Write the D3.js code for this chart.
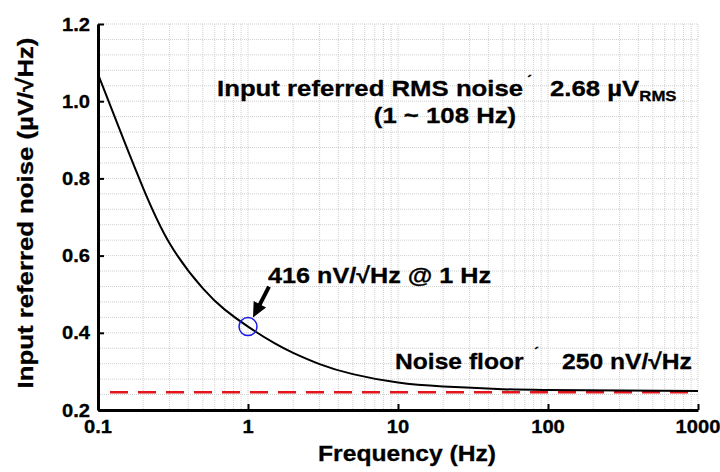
<!DOCTYPE html>
<html>
<head>
<meta charset="utf-8">
<script src="https://cdn.jsdelivr.net/npm/d3@7"></script>
<style>
  body { margin: 0; background: #fff; }
  svg { display: block; }
  text { font-family: 'Liberation Sans', Arial, sans-serif; font-weight: bold; fill: #000; stroke: #000; stroke-width: 0.3px; }
</style>
</head>
<body>
<svg id="chart"></svg>
<script>
var width = 720;
var height = 472;

// curve
var freq  = [0.1, 0.15, 0.2, 0.3, 0.5, 0.7, 1, 1.5, 2, 3, 5, 10, 20, 50, 100, 1000];
var noise = [1.07, 0.895, 0.775, 0.632, 0.515, 0.46, 0.416, 0.373, 0.348, 0.319, 0.293, 0.271, 0.261, 0.254, 0.252, 0.249];

var noiseFloor = 0.246;
var markFreq = 1;
var markNoise = 0.416;

var xTicks = [0.1, 1, 10, 100, 1000];
var xTickLabels = ['0.1', '1', '10', '100', '1000'];
var yTicks = [0.2, 0.4, 0.6, 0.8, 1.0, 1.2];
var yTickLabels = ['0.2', '0.4', '0.6', '0.8', '1.0', '1.2'];

var plotL = 98, plotR = 698, plotT = 24, plotB = 410;
var sx = 1.12; // text in the picture is a bit wide

var svg = d3.select('#chart')
  .attr('width', width)
  .attr('height', height);

var xScale = d3.scaleLog()
  .domain([0.1, 1000])
  .range([plotL, plotR]);

var yScale = d3.scaleLinear()
  .domain([0.2, 1.2])
  .range([plotB, plotT]);

// grid
var xGrid = [];
for (var d = 0.1; d < 999; d *= 10) {
  for (var k = 1; k < 10; k++) xGrid.push(d * k);
}
xGrid.push(1000);
var yGrid = d3.range(0, 26).map(i => 0.2 + i * 0.04);

svg.append('g')
  .selectAll('line')
  .data(xGrid)
  .enter()
  .append('line')
  .attr('x1', d => xScale(d))
  .attr('x2', d => xScale(d))
  .attr('y1', plotT)
  .attr('y2', plotB)
  .attr('stroke', '#cfcfcf')
  .attr('stroke-dasharray', '1,1');

svg.append('g')
  .selectAll('line')
  .data(yGrid)
  .enter()
  .append('line')
  .attr('x1', plotL)
  .attr('x2', plotR)
  .attr('y1', d => yScale(d))
  .attr('y2', d => yScale(d))
  .attr('stroke', '#cfcfcf')
  .attr('stroke-dasharray', '1,1');

// noise floor
svg.append('line')
  .attr('x1', plotL)
  .attr('x2', plotR)
  .attr('y1', yScale(noiseFloor))
  .attr('y2', yScale(noiseFloor))
  .attr('stroke', '#e3141b')
  .attr('stroke-width', 2.5)
  .attr('stroke-dasharray', '18,10')
  .attr('stroke-dashoffset', 16);

// curve
var line = d3.line()
  .x((d, i) => xScale(freq[i]))
  .y(d => yScale(d))
  .curve(d3.curveNatural);

svg.append('path')
  .attr('d', line(noise))
  .attr('fill', 'none')
  .attr('stroke', '#000')
  .attr('stroke-width', 2);

// axes
var xAxis = d3.axisBottom(xScale)
  .tickValues(xTicks)
  .tickSize(-6)
  .tickSizeOuter(0)
  .tickFormat('');

var yAxis = d3.axisLeft(yScale)
  .tickValues(yTicks)
  .tickSize(-6)
  .tickSizeOuter(0)
  .tickFormat('');

var gx = svg.append('g')
  .attr('transform', 'translate(0,' + plotB + ')')
  .call(xAxis);
var gy = svg.append('g')
  .attr('transform', 'translate(' + plotL + ',0)')
  .call(yAxis);

gx.select('.domain').attr('stroke-width', 3);
gy.select('.domain').attr('stroke-width', 3);
gx.selectAll('.tick line').attr('stroke-width', 2);
gy.selectAll('.tick line').attr('stroke-width', 2);

// labels, stretched a little like the picture
function label(x, y, str, size, anchor) {
  return svg.append('text')
    .attr('transform', 'translate(' + x + ',' + y + ') scale(' + sx + ',1)')
    .attr('text-anchor', anchor || 'start')
    .style('font-size', size + 'px')
    .text(str);
}

yTicks.forEach(function(v, i) {
  label(90, yScale(v) + 6.5, yTickLabels[i], 18, 'end');
});
xTicks.forEach(function(v, i) {
  label(xScale(v), plotB + 23, xTickLabels[i], 18, 'middle');
});

// axis titles
label(407, 461, 'Frequency (Hz)', 22, 'middle');
svg.append('text')
  .attr('transform', 'translate(33,213) rotate(-90) scale(' + sx + ',1)')
  .attr('text-anchor', 'middle')
  .style('font-size', '23px')
  .text('Input referred noise (\u00b5V/\u221aHz)');

// RMS annotation
label(217, 96, 'Input referred RMS noise', 23);
label(527, 86, '\u02ca', 14);
var rms = label(550, 96, '2.68 \u00b5V', 23);
rms.append('tspan')
  .attr('dy', 5)
  .style('font-size', '15px')
  .text('RMS');
label(445, 123, '(1 ~ 108 Hz)', 23, 'middle');

// marker at 1 Hz
var cx = xScale(markFreq), cy = yScale(markNoise);
svg.append('circle')
  .attr('cx', cx)
  .attr('cy', cy)
  .attr('r', 9)
  .attr('fill', 'none')
  .attr('stroke', '#1a1ae6')
  .attr('stroke-width', 1.5);

var tip = [cx + 5, cy - 9];
var tail = [cx + 21, cy - 40];
var dx = tip[0] - tail[0], dy = tip[1] - tail[1];
var len = Math.sqrt(dx * dx + dy * dy);
var ux = dx / len, uy = dy / len;
var base = [tip[0] - 15 * ux, tip[1] - 15 * uy];

svg.append('line')
  .attr('x1', tail[0])
  .attr('y1', tail[1])
  .attr('x2', base[0] + 2 * ux)
  .attr('y2', base[1] + 2 * uy)
  .attr('stroke', '#000')
  .attr('stroke-width', 4);

svg.append('path')
  .attr('d', 'M' + tip[0] + ',' + tip[1] +
    'L' + (base[0] + 7 * uy) + ',' + (base[1] - 7 * ux) +
    'L' + (base[0] - 7 * uy) + ',' + (base[1] + 7 * ux) + 'Z')
  .attr('fill', '#000');

label(268, 283, '416 nV/\u221aHz @ 1 Hz', 22.5);

// noise floor annotation
label(395, 369, 'Noise floor', 22);
label(534, 358, '\u02ca', 14);
label(562, 369, '250 nV/\u221aHz', 22);
</script>
</body>
</html>
